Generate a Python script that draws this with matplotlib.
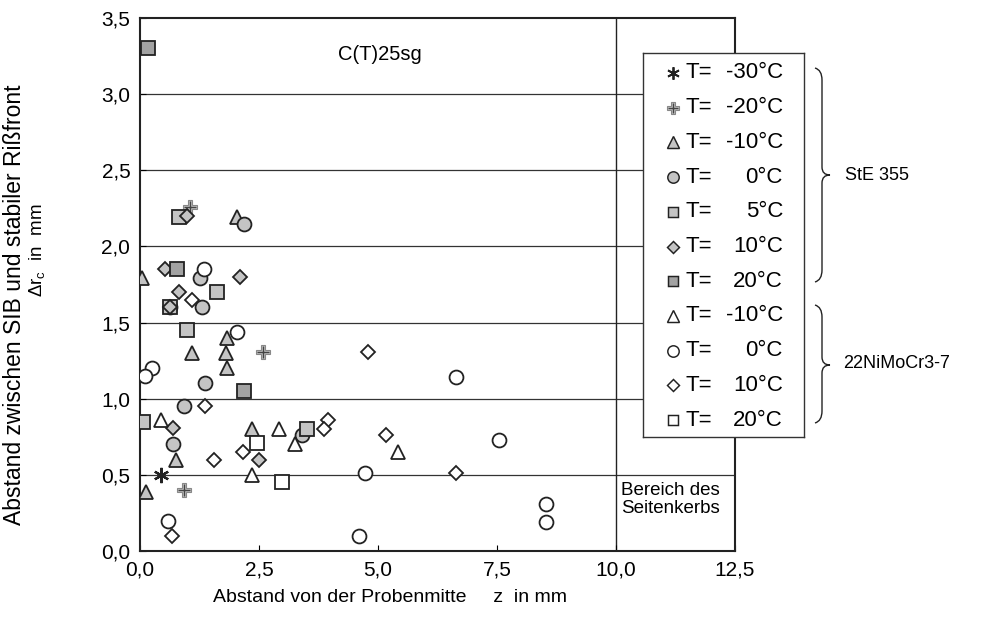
import numpy as np
import matplotlib
matplotlib.use("Agg")
import matplotlib.pyplot as plt
from matplotlib.path import Path
from matplotlib.patches import PathPatch

plt.rcParams['font.family'] = ['Liberation Sans', 'DejaVu Sans']
plt.rcParams['mathtext.fontset'] = 'custom'
plt.rcParams['mathtext.rm'] = 'Liberation Sans'
plt.rcParams['mathtext.it'] = 'Liberation Sans:italic'

# StE 355 (grau gefuellt)
ste_m30_x = [0.44]
ste_m30_y = [0.50]
ste_m20_x = [1.05, 2.58, 0.92]
ste_m20_y = [2.26, 1.31, 0.40]
ste_m10_x = [2.04, 0.04, 1.83, 1.10, 1.80, 1.83, 0.76, 0.13, 2.35]
ste_m10_y = [2.19, 1.79, 1.40, 1.30, 1.30, 1.20, 0.60, 0.39, 0.80]
ste_0_x = [2.18, 1.26, 1.30, 0.63, 1.37, 0.92, 0.69, 3.40]
ste_0_y = [2.15, 1.79, 1.60, 1.60, 1.10, 0.95, 0.70, 0.76]
ste_5_x = [0.82, 1.62, 0.99, 0.07, 0.63, 3.50]
ste_5_y = [2.19, 1.70, 1.45, 0.85, 1.60, 0.80]
ste_10_x = [0.99, 0.53, 2.10, 0.81, 0.63, 0.69, 2.50]
ste_10_y = [2.20, 1.85, 1.80, 1.70, 1.60, 0.81, 0.60]
ste_20_x = [0.17, 0.77, 2.18]
ste_20_y = [3.30, 1.85, 1.05]

# 22NiMoCr3-7 (offen)
ni_m10_x = [0.44, 2.93, 2.35, 3.26, 5.42]
ni_m10_y = [0.86, 0.80, 0.50, 0.70, 0.65]
ni_0_x = [1.34, 2.04, 0.25, 0.10, 0.59, 4.60, 4.73, 6.64, 7.54, 8.53, 8.53]
ni_0_y = [1.85, 1.44, 1.20, 1.15, 0.20, 0.10, 0.51, 1.14, 0.73, 0.31, 0.19]
ni_10_x = [1.10, 1.37, 1.55, 0.67, 2.17, 3.95, 3.87, 4.80, 5.17, 6.64]
ni_10_y = [1.65, 0.95, 0.60, 0.10, 0.65, 0.86, 0.80, 1.31, 0.76, 0.51]
ni_20_x = [2.45, 2.98]
ni_20_y = [0.71, 0.45]

legend_labels = [("T=", "-30°C"), ("T=", "-20°C"), ("T=", "-10°C"), ("T=", "0°C"),
                 ("T=", "5°C"), ("T=", "10°C"), ("T=", "20°C"), ("T=", "-10°C"),
                 ("T=", "0°C"), ("T=", "10°C"), ("T=", "20°C")]

W, H = 997, 639
fig = plt.figure(figsize=(W / 100, H / 100), dpi=100)
ax = fig.add_axes([140 / W, 1 - 551 / H, 595 / W, 533 / H])

ec = '#222222'
light = '#c4c4c4'
dark = '#a2a2a2'

# (marker, size, face) per series
styles = [
    ((6, 2, 0), 11, ec),
    ('P', 10, light),
    ('^', 10, light),
    ('o', 10, light),
    ('s', 9.5, light),
    ('D', 7.5, light),
    ('s', 9.5, dark),
    ('^', 10, 'white'),
    ('o', 10, 'white'),
    ('D', 7.5, 'white'),
    ('s', 9.5, 'white'),
]
series = [(ste_m30_x, ste_m30_y), (ste_m20_x, ste_m20_y), (ste_m10_x, ste_m10_y),
          (ste_0_x, ste_0_y), (ste_5_x, ste_5_y), (ste_10_x, ste_10_y),
          (ste_20_x, ste_20_y), (ni_m10_x, ni_m10_y), (ni_0_x, ni_0_y),
          (ni_10_x, ni_10_y), (ni_20_x, ni_20_y)]


def draw_marker(a, xs, ys, m, ms, fc, scale=1.0):
    ms = ms * scale
    if m == 'P':
        a.plot(xs, ys, ls='none', marker=m, ms=ms, mfc=fc, mec='#888888', mew=0.8, zorder=3)
        a.plot(xs, ys, ls='none', marker='+', ms=ms * 0.8, mec='#444444', mew=1.0, zorder=3)
    elif fc == ec:
        a.plot(xs, ys, ls='none', marker=m, ms=ms, color=ec, mew=1.6 * scale, zorder=3)
    else:
        a.plot(xs, ys, ls='none', marker=m, ms=ms, mfc=fc, mec=ec, mew=1.3 * scale, zorder=3)


for (xs, ys), (m, ms, fc) in zip(series, styles):
    draw_marker(ax, xs, ys, m, ms, fc)

ax.set_xlim(0, 12.5)
ax.set_ylim(0, 3.5)
xt = np.arange(0, 12.6, 2.5)
yt = np.arange(0, 3.6, 0.5)
ax.set_xticks(xt)
ax.set_yticks(yt)
ax.set_xticklabels([f"{v:.1f}".replace('.', ',') for v in xt], fontsize=15)
ax.set_yticklabels([f"{v:.1f}".replace('.', ',') for v in yt], fontsize=15)
ax.tick_params(direction='in', length=4, width=0.8, pad=7)
for v in yt[1:-1]:
    ax.axhline(v, color='#333333', lw=0.9, zorder=1)
ax.axvline(10, color='#222222', lw=1.0, zorder=1)
for s in ax.spines.values():
    s.set_linewidth(1.5)
    s.set_color('#222222')

ax.text(5.04, 3.26, "C(T)25sg", ha='center', va='center', fontsize=14.5)
ax.text(10.1, 0.45, "Bereich des\nSeitenkerbs", ha='left', va='top', fontsize=13.5, linespacing=1.05)

fig.text(213 / W, 1 - 598 / H, "Abstand von der Probenmitte     z  in mm",
         ha='left', va='center', fontsize=14)
fig.text(15 / W, 1 - 305 / H, "Abstand zwischen SIB und stabiler Rißfront",
         rotation=90, ha='center', va='center', fontsize=16.5)
fig.text(37 / W, 1 - 250 / H, r"$\Delta\mathrm{r}_\mathrm{c}$  in  mm",
         rotation=90, ha='center', va='center', fontsize=13.5)

# Legende als eigene Achse
lx0, ly0, lx1, ly1 = 643, 53, 804, 437
lax = fig.add_axes([lx0 / W, 1 - ly1 / H, (lx1 - lx0) / W, (ly1 - ly0) / H])
lax.set_xlim(lx0, lx1)
lax.set_ylim(ly1, ly0)
lax.set_xticks([])
lax.set_yticks([])
for s in lax.spines.values():
    s.set_linewidth(1.0)
    s.set_color('#333333')
row_y = np.linspace(73, 420, 11)
for ry, (m, ms, fc), (lab, val) in zip(row_y, styles, legend_labels):
    draw_marker(lax, [673], [ry], m, ms, fc, scale=0.82)
    lax.text(686, ry, lab, ha='left', va='center', fontsize=16)
    lax.text(783, ry, val, ha='right', va='center', fontsize=16)


def brace(y0, y1, ytip, x0=815, x1=822, xt=830):
    pts = [(x0, y0), (x1, y0 + 2), (x1, y0 + 12),
           (x1, ytip - 8), (x1, ytip), (xt, ytip),
           (x1, ytip), (x1, ytip + 8),
           (x1, y1 - 12), (x1, y1 - 2), (x0, y1)]
    pts = [(x / W, 1 - y / H) for x, y in pts]
    codes = [Path.MOVETO, Path.CURVE3, Path.CURVE3,
             Path.LINETO, Path.CURVE3, Path.CURVE3,
             Path.CURVE3, Path.CURVE3,
             Path.LINETO, Path.CURVE3, Path.CURVE3]
    fig.patches.append(PathPatch(Path(pts, codes), transform=fig.transFigure,
                                 fill=False, lw=1.0, color='#222222'))


brace(68, 282, 175)
brace(305, 423, 365)
fig.text(845 / W, 1 - 176 / H, "StE 355", ha='left', va='center', fontsize=13)
fig.text(843 / W, 1 - 364 / H, "22NiMoCr3-7", ha='left', va='center', fontsize=13)

fig.savefig("out.png", dpi=100)
